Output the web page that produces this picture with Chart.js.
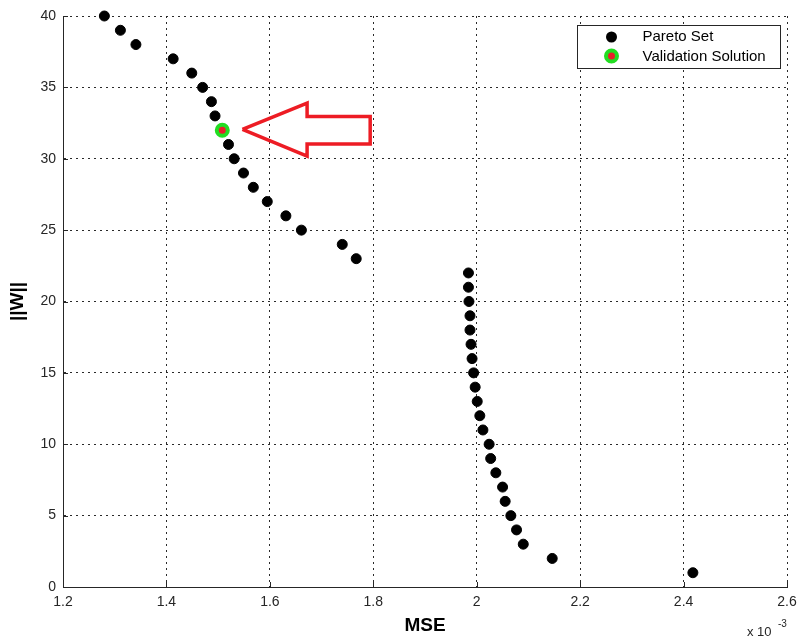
<!DOCTYPE html>
<html>
<head>
<meta charset="utf-8">
<script src="https://cdn.jsdelivr.net/npm/chart.js@4/dist/chart.umd.min.js"></script>
<style>
  html, body { margin: 0; padding: 0; background: #ffffff; }
  #wrap { width: 801px; height: 642px; position: relative; }
</style>
</head>
<body>
<div id="wrap"><canvas id="c" width="801" height="642"></canvas></div>
<script>
// ---- data (MSE in units of 1e-3, as the axis shows "x 10^-3") ----
const weightNorm = [40, 39, 38, 37, 36, 35, 34, 33, 32, 31, 30, 29, 28, 27, 26, 25, 24, 23,
                    22, 21, 20, 19, 18, 17, 16, 15, 14, 13, 12, 11, 10, 9, 8, 7, 6, 5, 4, 3, 2, 1];
const mseE3 = [1.280, 1.311, 1.341, 1.413, 1.449, 1.470, 1.487, 1.494, 1.508, 1.520, 1.531, 1.549,
               1.568, 1.595, 1.631, 1.661, 1.740, 1.767,
               1.984, 1.984, 1.985, 1.987, 1.987, 1.989, 1.991, 1.994, 1.997, 2.001, 2.006, 2.012,
               2.024, 2.027, 2.037, 2.050, 2.055, 2.066, 2.077, 2.090, 2.146, 2.418];
const validationMse = [1.508];
const validationW = [32];
// annotation arrow outline (data units)
const arrowX = [1.547, 1.672, 1.672, 1.794, 1.794, 1.672, 1.672, 1.547];
const arrowY = [32.05, 33.9, 32.96, 32.96, 31.03, 31.03, 30.19, 32.05];
const xTicks = [1.2, 1.4, 1.6, 1.8, 2, 2.2, 2.4, 2.6];
const yTicks = [0, 5, 10, 15, 20, 25, 30, 35, 40];
const seriesNames = ['Pareto Set', 'Validation Solution'];

const FONT = "'Liberation Sans', Arial, Helvetica, sans-serif";

const paretoPts = weightNorm.map((w, i) => ({ x: mseE3[i], y: w }));
const validPts = validationW.map((w, i) => ({ x: validationMse[i], y: w }));
const arrowPts = arrowX.map((x, i) => ({ x: x, y: arrowY[i] }));

// inward tick marks, axis exponent and in-plot legend
const decorPlugin = {
  id: 'decor',
  afterDraw(chart) {
    const ctx = chart.ctx;
    const xs = chart.scales.x, ys = chart.scales.y;
    const a = chart.chartArea;
    ctx.save();
    ctx.strokeStyle = '#262626';
    ctx.lineWidth = 1;
    ctx.beginPath();
    xTicks.forEach(v => {
      const px = Math.round(xs.getPixelForValue(v)) + 0.5;
      ctx.moveTo(px, a.bottom);
      ctx.lineTo(px, a.bottom - 5);
    });
    yTicks.forEach(v => {
      const py = Math.round(ys.getPixelForValue(v)) + 0.5;
      ctx.moveTo(a.left, py);
      ctx.lineTo(a.left + 5, py);
    });
    ctx.stroke();

    // exponent label
    ctx.fillStyle = '#262626';
    ctx.textBaseline = 'alphabetic';
    ctx.textAlign = 'left';
    ctx.font = '13px ' + FONT;
    ctx.fillText('x 10', 747, 636);
    ctx.font = '10px ' + FONT;
    ctx.fillText('-3', 778, 627);

    // legend box
    const lx = 577.5, ly = a.top + 9.5, lw = 203, lh = 43;
    ctx.fillStyle = '#ffffff';
    ctx.fillRect(lx, ly, lw, lh);
    ctx.strokeStyle = '#262626';
    ctx.lineWidth = 1;
    ctx.strokeRect(lx, ly, lw, lh);
    const mx = lx + 34;
    ctx.fillStyle = '#000000';
    ctx.beginPath();
    ctx.arc(mx, ly + 11.5, 5.5, 0, Math.PI * 2);
    ctx.fill();
    ctx.beginPath();
    ctx.arc(mx, ly + 30.5, 5.5, 0, Math.PI * 2);
    ctx.fillStyle = '#e8202a';
    ctx.fill();
    ctx.lineWidth = 4;
    ctx.strokeStyle = '#22dd22';
    ctx.stroke();
    ctx.fillStyle = '#000000';
    ctx.font = '15px ' + FONT;
    ctx.textBaseline = 'middle';
    ctx.fillText(seriesNames[0], lx + 65, ly + 11.5);
    ctx.fillText(seriesNames[1], lx + 65, ly + 31);
    ctx.restore();
  }
};

new Chart(document.getElementById('c'), {
  type: 'scatter',
  data: {
    datasets: [
      {
        label: seriesNames[0],
        data: paretoPts,
        pointStyle: 'circle',
        pointRadius: 5,
        pointBorderWidth: 1,
        pointBackgroundColor: '#000000',
        pointBorderColor: '#000000',
        clip: false,
        order: 2
      },
      {
        label: seriesNames[1],
        data: validPts,
        pointStyle: 'circle',
        pointRadius: 5.5,
        pointBorderWidth: 4,
        pointBackgroundColor: '#e8202a',
        pointBorderColor: '#22dd22',
        clip: false,
        order: 1
      },
      {
        label: 'arrow',
        data: arrowPts,
        showLine: true,
        pointRadius: 0,
        borderColor: '#ed1c24',
        borderWidth: 3.5,
        borderJoinStyle: 'miter',
        fill: false,
        clip: false,
        order: 0
      }
    ]
  },
  options: {
    responsive: false,
    animation: false,
    devicePixelRatio: 1,
    layout: { autoPadding: false, padding: { top: 16, right: 14, left: 0, bottom: 0 } },
    plugins: {
      legend: { display: false },
      tooltip: { enabled: false }
    },
    scales: {
      x: {
        type: 'linear',
        min: 1.2,
        max: 2.6,
        afterFit: s => { s.height = 55; s.paddingLeft = 0; s.paddingRight = 0; },
        afterBuildTicks: s => { s.ticks = xTicks.map(v => ({ value: v })); },
        ticks: {
          color: '#262626',
          font: { family: FONT, size: 14 },
          padding: 7,
          maxRotation: 0,
          callback: v => String(+(+v).toFixed(1))
        },
        grid: { color: '#2a2a2a', lineWidth: 1, drawTicks: false },
        border: { display: true, color: '#262626', width: 1, dash: [2, 4] },
        title: {
          display: true,
          text: 'MSE',
          color: '#000000',
          font: { family: FONT, size: 19, weight: 'bold' },
          padding: { top: 0, bottom: 5 }
        }
      },
      y: {
        type: 'linear',
        min: 0,
        max: 40,
        afterFit: s => { s.width = 63; s.paddingTop = 0; s.paddingBottom = 0; },
        afterBuildTicks: s => { s.ticks = yTicks.map(v => ({ value: v })); },
        ticks: {
          color: '#262626',
          font: { family: FONT, size: 14 },
          padding: 7,
          callback: v => String(v)
        },
        grid: { color: '#2a2a2a', lineWidth: 1, drawTicks: false },
        border: { display: true, color: '#262626', width: 1, dash: [2, 4] },
        title: {
          display: true,
          text: '||W||',
          color: '#000000',
          font: { family: FONT, size: 19, weight: 'bold' },
          padding: { top: 6, bottom: 0 }
        }
      }
    }
  },
  plugins: [decorPlugin]
});
</script>
</body>
</html>
